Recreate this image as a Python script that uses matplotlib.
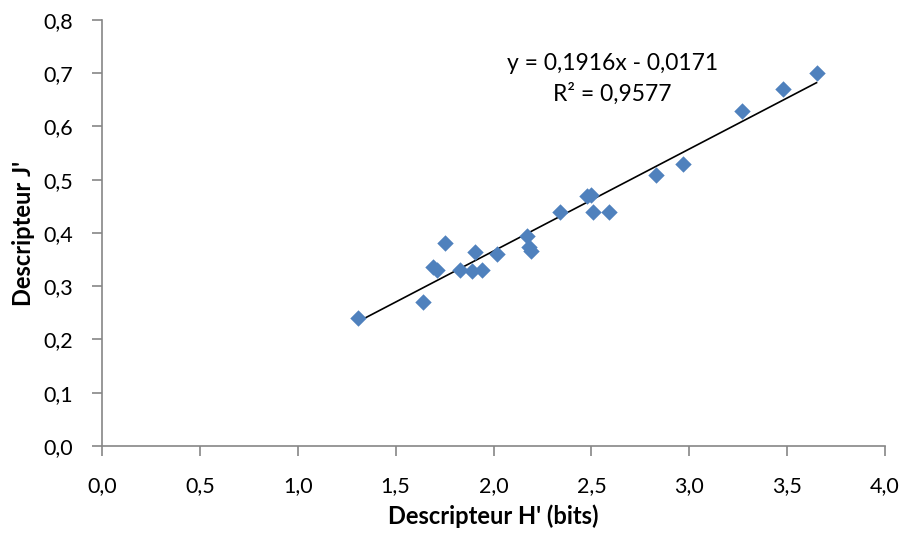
import numpy as np
import matplotlib.pyplot as plt

# Descripteur H' (bits) vs Descripteur J'
h_bits = [1.31, 1.64, 1.69, 1.71, 1.75, 1.83, 1.89, 1.905, 1.94, 2.02,
          2.17, 2.18, 2.19, 2.34, 2.48, 2.50, 2.51, 2.59, 2.83, 2.97,
          3.27, 3.48, 3.65]
j_even = [0.24, 0.27, 0.337, 0.33, 0.382, 0.33, 0.328, 0.365, 0.33, 0.36,
          0.394, 0.374, 0.366, 0.439, 0.469, 0.471, 0.439, 0.439, 0.508, 0.53,
          0.629, 0.67, 0.70]
slope, intercept = 0.1916, -0.0171
r2 = 0.9577

plt.rcParams['font.family'] = ['Lato', 'DejaVu Sans']

fig = plt.figure(figsize=(9.02, 5.34), dpi=100)
ax = fig.add_axes([0.1131, 0.1648, 0.8681, 0.7978])

ax.scatter(h_bits, j_even, marker='D', s=70, color='#4F81BD', linewidths=0, zorder=3)

xs = np.array([min(h_bits), max(h_bits)])
ax.plot(xs, slope * xs + intercept, color='black', lw=1.2, zorder=2)

ax.text(2.608, 0.719, "y = 0,1916x - 0,0171", ha='center', va='center', fontsize=16.5)
ax.text(2.608, 0.661, "R² = 0,9577", ha='center', va='center', fontsize=16.5)

ax.set_xlim(0, 4)
ax.set_ylim(0, 0.8)
xt = np.arange(0, 4.01, 0.5)
yt = np.arange(0, 0.801, 0.1)
ax.set_xticks(xt)
ax.set_yticks(yt)
ax.set_xticklabels([f"{v:.1f}".replace('.', ',') for v in xt])
ax.set_yticklabels([f"{v:.1f}".replace('.', ',') for v in yt])
ax.tick_params(labelsize=15.5, colors='#868686', labelcolor='black', length=7, width=1.2)
ax.tick_params(axis='y', pad=14)
ax.tick_params(axis='x', pad=15)

for side in ['top', 'right']:
    ax.spines[side].set_visible(False)
for side in ['left', 'bottom']:
    ax.spines[side].set_color('#868686')
    ax.spines[side].set_linewidth(1.2)

ax.set_xlabel("Descripteur H' (bits)", fontsize=17, fontweight='bold', labelpad=6)
ax.set_ylabel("Descripteur J'", fontsize=17, fontweight='bold', labelpad=6)

fig.savefig("out.png", dpi=100)
